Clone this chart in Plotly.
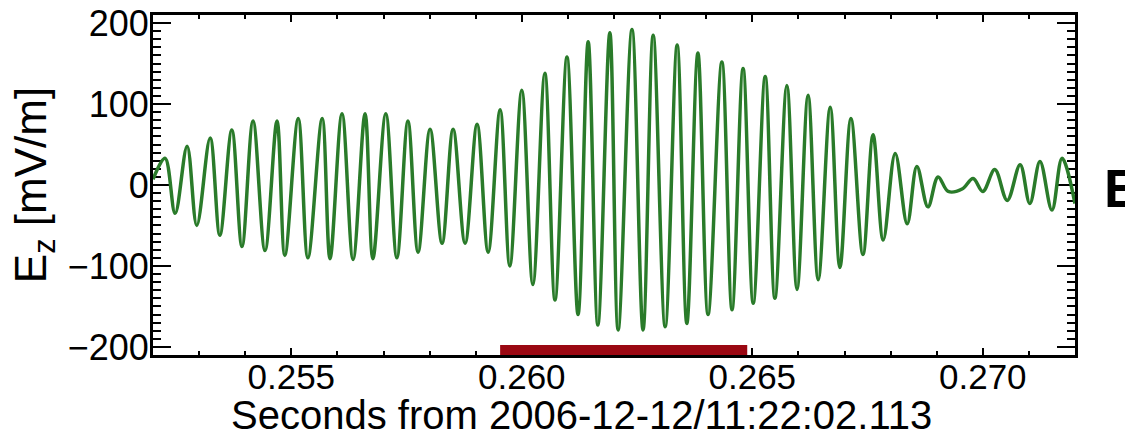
import plotly.graph_objects as go

# wave extrema (seconds, mV/m); drawn as a smoothed line
t_ext = [0.25200, 0.25226, 0.25248, 0.25274, 0.25295, 0.25324, 0.25345, 0.25371,
         0.25393, 0.25417, 0.25443, 0.25469, 0.25486, 0.25515, 0.25536, 0.25567,
         0.25584, 0.25610, 0.25634, 0.25660, 0.25677, 0.25705, 0.25729, 0.25753,
         0.25775, 0.25801, 0.25827, 0.25851, 0.25877, 0.25903, 0.25927, 0.25953,
         0.25974, 0.26000, 0.26024, 0.26050, 0.26072, 0.26098, 0.26122, 0.26144,
         0.26165, 0.26191, 0.26209, 0.26239, 0.26263, 0.26285, 0.26311, 0.26337,
         0.26358, 0.26382, 0.26404, 0.26434, 0.26456, 0.26480, 0.26502, 0.26528,
         0.26549, 0.26575, 0.26597, 0.26621, 0.26643, 0.26669, 0.26690, 0.26714,
         0.26740, 0.26762, 0.26784, 0.26810, 0.26836, 0.26857, 0.26881, 0.26903,
         0.26925, 0.26955, 0.26979, 0.27000, 0.27026, 0.27053, 0.27081, 0.27102,
         0.27124, 0.27150, 0.27172, 0.27200]
ez_ext = [7, 33, -35, 48, -50, 58, -62, 68,
          -76, 79, -81, 79, -87, 82, -90, 82,
          -91, 88, -92, 88, -91, 88, -90, 79,
          -83, 69, -72, 69, -72, 75, -83, 93,
          -100, 117, -123, 138, -142, 158, -160, 177,
          -173, 188, -179, 192, -179, 185, -175, 173,
          -171, 163, -160, 152, -154, 144, -146, 134,
          -140, 123, -129, 111, -117, 96, -102, 82,
          -86, 62, -68, 39, -48, 23, -27, 10,
          -8, -5, 8, -8, 19, -19, 25, -23,
          29, -31, 33, -23]

# red interval bar under the burst
bar_t = [0.25953, 0.26489]
bar_y = [-205, -205]

x_range = [0.252, 0.272]
y_range = [-210, 210]

FONT = 'Liberation Sans, Arial, sans-serif'

fig = go.Figure()

fig.add_trace(go.Scatter(
    x=t_ext, y=ez_ext, mode='lines',
    line=dict(color='#2a7b2a', width=3.5, shape='spline', smoothing=1.0),
    showlegend=False
))

fig.add_trace(go.Scatter(
    x=bar_t, y=bar_y, mode='lines',
    line=dict(color='#9a0812', width=12),
    cliponaxis=False, showlegend=False
))

fig.update_layout(
    width=1125, height=436,
    margin=dict(l=153, r=50, t=15, b=81, autoexpand=False),
    paper_bgcolor='white', plot_bgcolor='white',
    font=dict(family=FONT, color='black'),
    annotations=[
        dict(text='Seconds from 2006-12-12/11:22:02.113',
             xref='paper', yref='paper', x=0.465, y=-0.105,
             xanchor='center', yanchor='top', showarrow=False,
             font=dict(size=40, family=FONT, color='black')),
        dict(text='<b>E</b>', xref='paper', yref='paper', x=1.029, y=0.49,
             xanchor='left', yanchor='middle', showarrow=False,
             font=dict(size=54, color='black', family=FONT)),
    ]
)

fig.update_xaxes(
    range=x_range, showgrid=False, zeroline=False, automargin=False,
    showline=True, linecolor='black', linewidth=3, mirror='ticks',
    ticks='inside', ticklen=7, tickwidth=2, tickcolor='black',
    tick0=0.255, dtick=0.005, tickformat='.3f',
    tickfont=dict(size=35, family=FONT), ticklabelstandoff=-11,
    minor=dict(dtick=0.001, ticks='inside', ticklen=4, tickwidth=2, tickcolor='black'),
    layer='below traces'
)

fig.update_yaxes(
    range=y_range, showgrid=False, zeroline=False, automargin=False,
    showline=True, linecolor='black', linewidth=3, mirror='ticks',
    ticks='inside', ticklen=18, tickwidth=2, tickcolor='black',
    tick0=0, dtick=100,
    tickfont=dict(size=36, family=FONT), ticklabelstandoff=-6,
    minor=dict(dtick=10, ticks='inside', ticklen=8, tickwidth=2, tickcolor='black'),
    title=dict(text='E<sub>z</sub> [mV/m]', font=dict(size=44, family=FONT), standoff=8),
    layer='below traces'
)

# drop the browser's default body margin so the figure sits at the window corner
fig.write_html("out.html", config={'displayModeBar': False},
               post_script="document.body.style.margin='0px';")
